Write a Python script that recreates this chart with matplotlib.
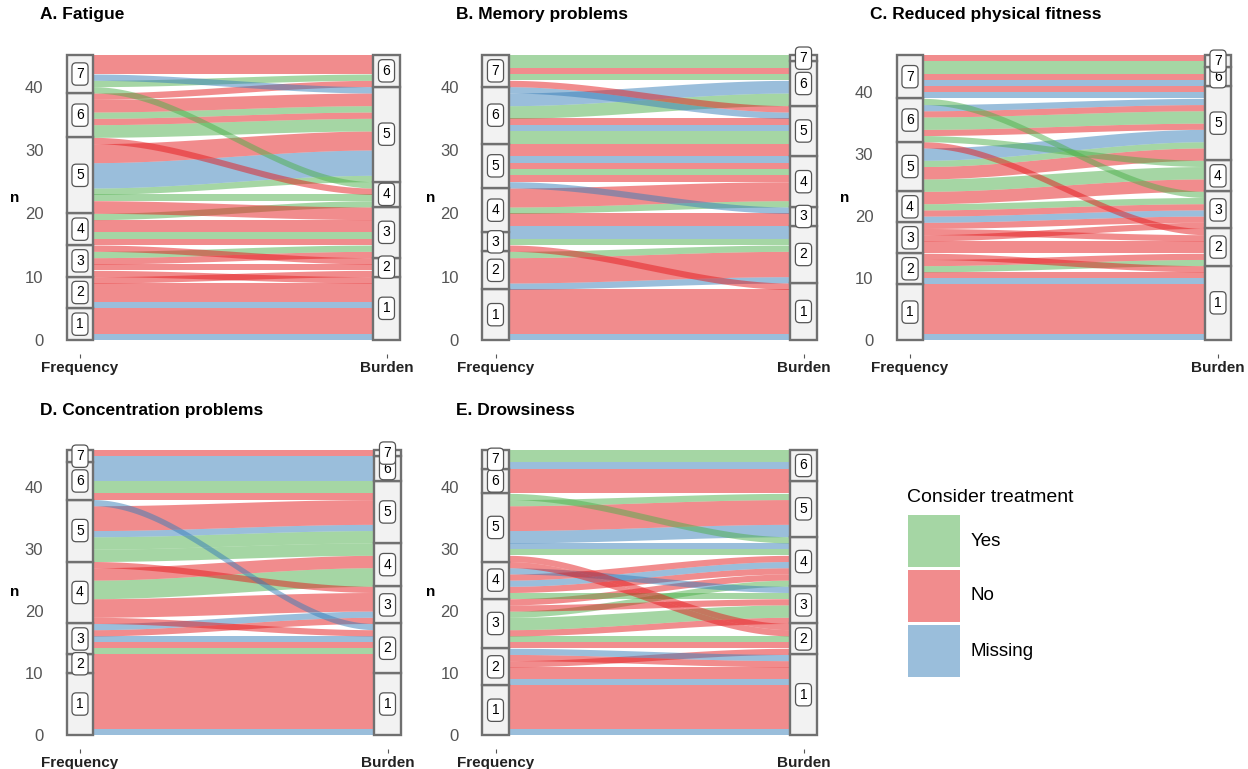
# Alluvial plots: symptom frequency vs burden, coloured by "consider treatment"
import numpy as np
import matplotlib.pyplot as plt
from matplotlib.patches import Rectangle

plt.rcParams['font.family'] = ['Liberation Sans', 'DejaVu Sans']

levels = [1, 2, 3, 4, 5, 6, 7]
treat_names = {"Y": "Yes", "N": "No", "M": "Missing"}
treat_colors = {"Y": "#4DAF4A", "N": "#E41A1C", "M": "#377EB8"}

# flows listed bottom -> top as they leave the Frequency axis
# A. Fatigue
fatigue_freq   = [1, 1, 2, 2, 2, 3, 3, 3, 3, 3, 4, 4, 4, 4, 4, 5, 5, 5, 5, 5, 5, 6, 6, 6, 6, 6, 7, 7, 7, 7]
fatigue_burden = [1, 1, 1, 1, 2, 1, 2, 3, 3, 2, 3, 3, 3, 3, 4, 3, 4, 5, 5, 5, 4, 5, 5, 5, 5, 6, 4, 6, 5, 6]
fatigue_treat  = ["M", "N", "M", "N", "N", "N", "N", "N", "Y", "N", "N", "Y", "N", "N", "Y",
                  "N", "Y", "Y", "M", "N", "N", "Y", "N", "Y", "N", "N", "Y", "Y", "M", "N"]
fatigue_n      = [1, 4, 1, 3, 1, 1, 1, 1, 1, 1, 1, 1, 1, 1, 1, 2, 1, 1, 4, 3, 1, 2, 1, 1, 2, 1, 1, 1, 1, 3]

# B. Memory problems
memory_freq   = [1, 1, 2, 2, 2, 3, 3, 3, 4, 4, 4, 4, 4, 5, 5, 5, 5, 5, 5, 6, 6, 6, 6, 6, 6, 7, 7, 7, 7, 7]
memory_burden = [1, 1, 2, 2, 2, 1, 2, 2, 2, 3, 3, 4, 4, 3, 4, 4, 4, 4, 5, 5, 5, 5, 6, 6, 5, 5, 6, 6, 6, 7]
memory_treat  = ["M", "N", "M", "N", "Y", "N", "Y", "M", "M", "N", "N", "Y", "N", "M", "N",
                 "Y", "N", "M", "N", "Y", "M", "N", "Y", "M", "M", "N", "Y", "N", "Y", "Y"]
memory_n      = [1, 7, 1, 4, 1, 1, 1, 1, 1, 1, 1, 1, 3, 1, 1, 1, 1, 1, 2, 2, 1, 1, 2, 2, 1, 1, 1, 1, 1, 1]

# C. Reduced physical fitness
fitness_freq   = [1, 1, 2, 2, 2, 2, 2, 3, 3, 3, 3, 4, 4, 4, 4, 5, 5, 5, 5, 5, 6, 6, 6, 6, 6, 6,
                  7, 7, 7, 7, 7, 7, 7]
fitness_burden = [1, 1, 1, 1, 2, 2, 1, 2, 3, 2, 3, 3, 3, 3, 4, 4, 5, 5, 5, 2, 4, 5, 5, 5, 5, 3,
                  5, 5, 6, 6, 6, 7, 7]
fitness_treat  = ["M", "N", "M", "N", "Y", "N", "N", "N", "N", "N", "N", "M", "N", "Y", "N",
                  "Y", "N", "Y", "M", "N", "Y", "N", "Y", "N", "M", "Y", "M", "N", "M", "N", "Y", "Y", "N"]
fitness_n      = [1, 8, 1, 1, 1, 1, 1, 2, 1, 1, 1, 1, 1, 1, 2, 2, 2, 1, 2, 1, 1, 1, 2, 1, 1, 1,
                  1, 1, 1, 1, 1, 1, 1]

# D. Concentration problems
conc_freq   = [1, 1, 2, 3, 3, 3, 3, 3, 4, 4, 4, 4, 4, 5, 5, 5, 5, 5, 6, 6, 6, 7, 7]
conc_burden = [1, 1, 2, 2, 2, 2, 3, 3, 2, 3, 4, 4, 3, 4, 5, 5, 5, 2, 5, 5, 6, 6, 7]
conc_treat  = ["M", "N", "N", "Y", "N", "M", "N", "M", "N", "N", "Y", "N", "N",
               "Y", "Y", "M", "N", "M", "N", "Y", "M", "M", "N"]
conc_n      = [1, 9, 3, 1, 1, 1, 1, 1, 1, 3, 3, 2, 1, 2, 2, 1, 4, 1, 1, 2, 3, 1, 1]

# E. Drowsiness
drowsy_freq   = [1, 1, 2, 2, 2, 2, 2, 3, 3, 3, 3, 3, 3, 3, 4, 4, 4, 4, 4, 4, 5, 5, 5, 5, 5, 5, 5,
                 6, 6, 7, 7]
drowsy_burden = [1, 1, 1, 1, 2, 1, 1, 2, 2, 3, 3, 4, 3, 4, 3, 4, 4, 4, 3, 2, 2, 4, 4, 5, 5, 5, 4,
                 5, 6, 6, 6]
drowsy_treat  = ["M", "N", "M", "N", "N", "N", "M", "N", "Y", "N", "Y", "Y", "N", "N",
                 "Y", "N", "M", "N", "M", "N", "N", "Y", "M", "M", "N", "Y", "Y", "N", "N", "M", "Y"]
drowsy_n      = [1, 7, 1, 2, 1, 1, 1, 1, 1, 1, 2, 1, 1, 1, 1, 1, 1, 1, 1, 1, 1, 1, 1, 2, 4, 1, 1,
                 2, 2, 1, 2]

W, H = 1248, 769
fig = plt.figure(figsize=(W / 100, H / 100), dpi=100)

STRAT_W = 0.085
PANEL_H = 285.0   # px spanned by the data range


def draw_panel(title, freq, burden, treat, n, x1, x2, y0):
    dx = x2 - x1
    ax = fig.add_axes([(x1 - 0.09 * dx) / W, 1 - (y0 + 0.05 * PANEL_H) / H,
                       1.18 * dx / W, 1.1 * PANEL_H / H])
    tot = sum(n)
    idx = list(range(len(n)))
    left = sorted(idx, key=lambda i: (freq[i], i))
    right = sorted(idx, key=lambda i: (burden[i], freq[i], i))
    yl, yr = {}, {}
    y = 0
    for i in left:
        yl[i] = (y, y + n[i])
        y += n[i]
    y = 0
    for i in right:
        yr[i] = (y, y + n[i])
        y += n[i]

    t = np.linspace(0, 1, 120)
    s = 3 * t ** 2 - 2 * t ** 3
    xa, xb = 1 + STRAT_W / 2, 2 - STRAT_W / 2
    xs = xa + (xb - xa) * t
    for i in idx:
        lo = yl[i][0] + (yr[i][0] - yl[i][0]) * s
        hi = yl[i][1] + (yr[i][1] - yl[i][1]) * s
        ax.fill_between(xs, lo, hi, color=treat_colors[treat[i]], alpha=0.5, lw=0)

    for k, vals in enumerate([freq, burden]):
        bottom = 0
        for lev in levels:
            c = sum(n[i] for i in idx if vals[i] == lev)
            if c == 0:
                continue
            ax.add_patch(Rectangle((k + 1 - STRAT_W / 2, bottom), STRAT_W, c,
                                   fc='#F2F2F2', ec='#707070', lw=1.7, zorder=3))
            ax.text(k + 1, bottom + c / 2, str(lev), ha='center', va='center',
                    fontsize=10, zorder=4,
                    bbox=dict(boxstyle='round,pad=0.3', fc='white', ec='#555555', lw=0.9))
            bottom += c

    ax.set_xlim(1 - 0.09, 2 + 0.09)
    ax.set_ylim(-0.05 * tot, 1.05 * tot)
    for sp in ax.spines.values():
        sp.set_visible(False)
    ax.set_yticks([0, 10, 20, 30, 40])
    ax.tick_params(axis='y', length=0, pad=6.5, labelsize=12, labelcolor='#555555')
    ax.set_xticks([1, 2], ['Frequency', 'Burden'])
    ax.tick_params(axis='x', length=3, width=0.8, color='#555555', pad=2,
                   labelsize=11, labelcolor='#222222')
    for lab in ax.get_xticklabels():
        lab.set_fontweight('bold')

    fig.text((x1 - 40) / W, 1 - (y0 - 325) / H, title, fontsize=12.5,
             fontweight='bold', va='center', ha='left')
    fig.text((x1 - 65) / W, 1 - (y0 - 142.5) / H, 'n', fontsize=11,
             fontweight='bold', va='center', ha='center')


draw_panel("A. Fatigue", fatigue_freq, fatigue_burden, fatigue_treat, fatigue_n, 80, 386.5, 340)
draw_panel("B. Memory problems", memory_freq, memory_burden, memory_treat, memory_n, 495.5, 803.5, 340)
draw_panel("C. Reduced physical fitness", fitness_freq, fitness_burden, fitness_treat, fitness_n,
           910, 1218, 340)
draw_panel("D. Concentration problems", conc_freq, conc_burden, conc_treat, conc_n, 80, 387.5, 735)
draw_panel("E. Drowsiness", drowsy_freq, drowsy_burden, drowsy_treat, drowsy_n, 495.5, 803.5, 735)

# legend
fig.text(907 / W, 1 - 497 / H, 'Consider treatment', fontsize=14, va='center', ha='left')
for j, key in enumerate(["Y", "N", "M"]):
    top = 515 + j * 55
    fig.patches.append(Rectangle((908 / W, 1 - (top + 52) / H), 52 / W, 52 / H,
                                 transform=fig.transFigure, fc=treat_colors[key],
                                 alpha=0.5, ec='none'))
    fig.text(971 / W, 1 - (top + 26) / H, treat_names[key], fontsize=13.5,
             va='center', ha='left')

fig.savefig('out.png', dpi=100)
